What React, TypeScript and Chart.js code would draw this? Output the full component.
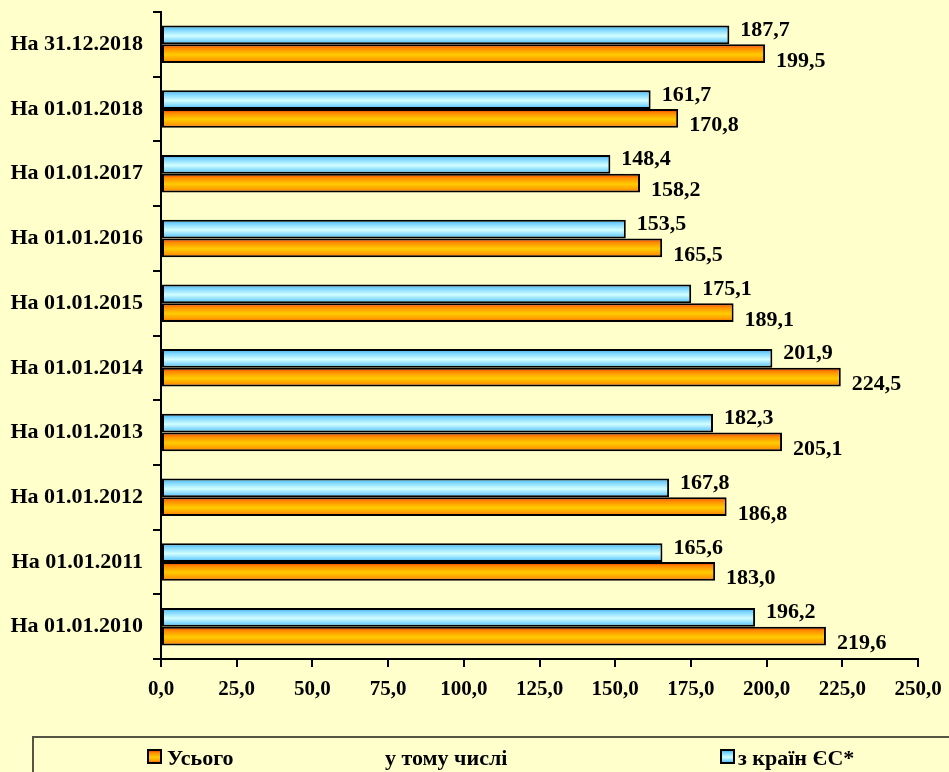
import React, { useEffect, useRef } from 'react';
import { Chart, registerables } from 'chart.js';

Chart.register(...registerables);

const categories = [
  'На 31.12.2018',
  'На 01.01.2018',
  'На 01.01.2017',
  'На 01.01.2016',
  'На 01.01.2015',
  'На 01.01.2014',
  'На 01.01.2013',
  'На 01.01.2012',
  'На 01.01.2011',
  'На 01.01.2010',
];
const euValues = [187.7, 161.7, 148.4, 153.5, 175.1, 201.9, 182.3, 167.8, 165.6, 196.2];
const totalValues = [199.5, 170.8, 158.2, 165.5, 189.1, 224.5, 205.1, 186.8, 183.0, 219.6];
const xMin = 0;
const xMax = 250;
const xStep = 25;
const totalLabel = 'Усього';
const middleLegendText = 'у тому числі';
const euLabel = 'з країн ЄС*';

const FONT = "'Liberation Serif', 'Times New Roman', serif";
const FONT_SIZE = 22;
const TICK_FONT_SIZE = 21;
const BG = '#FFFFCC';
const CAT_PCT = 0.58;

const BLUE_STOPS: [number, string][] = [
  [0, '#33A6DD'],
  [0.2, '#77D2FF'],
  [0.55, '#D2FFFF'],
  [0.85, '#77D2FF'],
  [1, '#3399CC'],
];
const ORANGE_STOPS: [number, string][] = [
  [0, '#EE2200'],
  [0.2, '#FF8800'],
  [0.55, '#FFCC00'],
  [0.85, '#FF9900'],
  [1, '#EE3300'],
];

const fmt = (v: number) => v.toFixed(1).replace('.', ',');

function makeGradient(c: CanvasRenderingContext2D, top: number, h: number, stops: [number, string][]) {
  const g = c.createLinearGradient(0, top, 0, top + h);
  stops.forEach(([o, col]) => g.addColorStop(o, col));
  return g;
}

function barFill(stops: [number, string][]) {
  return (ctx: any) => {
    const chart = ctx.chart;
    const y = chart.scales && chart.scales.y;
    if (!y || ctx.type !== 'data' || !chart.chartArea) return stops[2][1];
    const center = y.getPixelForValue(ctx.dataIndex);
    const band = y.height / categories.length;
    const size = (band * CAT_PCT) / 2;
    const top = ctx.datasetIndex === 0 ? center - size : center;
    return makeGradient(chart.ctx, top, size, stops);
  };
}

const bgPlugin = {
  id: 'bgFill',
  beforeDraw(chart: any) {
    const c = chart.ctx;
    c.save();
    c.fillStyle = BG;
    c.fillRect(0, 0, chart.width, chart.height);
    c.restore();
  },
};

const valueLabelPlugin = {
  id: 'valueLabels',
  afterDatasetsDraw(chart: any) {
    const c = chart.ctx;
    c.save();
    c.font = `bold ${FONT_SIZE}px ${FONT}`;
    c.fillStyle = '#000';
    c.textAlign = 'left';
    c.textBaseline = 'alphabetic';
    chart.data.datasets.forEach((ds: any, di: number) => {
      const meta = chart.getDatasetMeta(di);
      meta.data.forEach((bar: any, i: number) => {
        const dy = di === 0 ? 1 : 13;
        c.fillText(fmt(ds.data[i]), bar.x + 11, bar.y + dy);
      });
    });
    c.restore();
  },
};

const legendPlugin = {
  id: 'customLegend',
  afterDraw(chart: any) {
    const c = chart.ctx;
    c.save();
    c.strokeStyle = '#555544';
    c.lineWidth = 2;
    c.strokeRect(33, 737, chart.width, 60);
    const drawBox = (x: number, stops: [number, string][]) => {
      c.fillStyle = makeGradient(c, 750, 13, stops);
      c.fillRect(x, 750, 13, 13);
      c.strokeStyle = '#000';
      c.lineWidth = 2;
      c.strokeRect(x, 750, 13, 13);
    };
    drawBox(148, ORANGE_STOPS);
    drawBox(721, BLUE_STOPS);
    c.font = `bold ${FONT_SIZE}px ${FONT}`;
    c.fillStyle = '#000';
    c.textBaseline = 'alphabetic';
    c.textAlign = 'left';
    c.fillText(chart.data.datasets[1].label, 167, 765);
    c.fillText(middleLegendText, 385, 765);
    c.fillText(chart.data.datasets[0].label, 738, 765);
    c.restore();
  },
};

export default function App() {
  const ref = useRef<HTMLCanvasElement | null>(null);
  useEffect(() => {
    document.body.style.background = BG;
    const canvas = ref.current;
    if (!canvas) return;
    const chart = new Chart(canvas, {
      type: 'bar',
      data: {
        labels: categories,
        datasets: [
          {
            label: euLabel,
            data: euValues,
            backgroundColor: barFill(BLUE_STOPS),
            borderColor: '#000',
            borderWidth: 2,
            borderSkipped: false,
            categoryPercentage: CAT_PCT,
            barPercentage: 1,
          },
          {
            label: totalLabel,
            data: totalValues,
            backgroundColor: barFill(ORANGE_STOPS),
            borderColor: '#000',
            borderWidth: 2,
            borderSkipped: false,
            categoryPercentage: CAT_PCT,
            barPercentage: 1,
          },
        ],
      },
      options: {
        indexAxis: 'y',
        responsive: false,
        animation: false,
        devicePixelRatio: 1,
        layout: { padding: { top: 12, right: 31, left: 0, bottom: 0 } },
        plugins: {
          legend: { display: false },
          tooltip: { enabled: false },
        },
        scales: {
          x: {
            min: xMin,
            max: xMax,
            afterFit: (s: any) => {
              s.height = 113;
              s.paddingLeft = 0;
              s.paddingRight = 0;
            },
            ticks: {
              stepSize: xStep,
              color: '#000',
              padding: 10,
              font: { family: FONT, size: TICK_FONT_SIZE, weight: 'bold' },
              callback: (v: any) => fmt(Number(v)),
            },
            grid: {
              drawOnChartArea: false,
              drawTicks: true,
              tickLength: 8,
              color: '#000',
              lineWidth: 2,
            },
            border: { display: true, color: '#000', width: 2 },
          },
          y: {
            afterFit: (s: any) => {
              s.width = 161;
              s.paddingTop = 0;
              s.paddingBottom = 0;
            },
            ticks: {
              color: '#000',
              padding: 10,
              font: { family: FONT, size: FONT_SIZE, weight: 'bold' },
            },
            grid: {
              offset: true,
              drawOnChartArea: false,
              drawTicks: true,
              tickLength: 8,
              color: '#000',
              lineWidth: 2,
            },
            border: { display: true, color: '#000', width: 2 },
          },
        },
      } as any,
      plugins: [bgPlugin, valueLabelPlugin, legendPlugin],
    });
    return () => chart.destroy();
  }, []);
  return (
    <div style={{ position: 'absolute', left: 0, top: 0, width: 949, height: 772, background: BG }}>
      <canvas ref={ref} width={949} height={772} style={{ width: 949, height: 772, display: 'block' }} />
    </div>
  );
}
